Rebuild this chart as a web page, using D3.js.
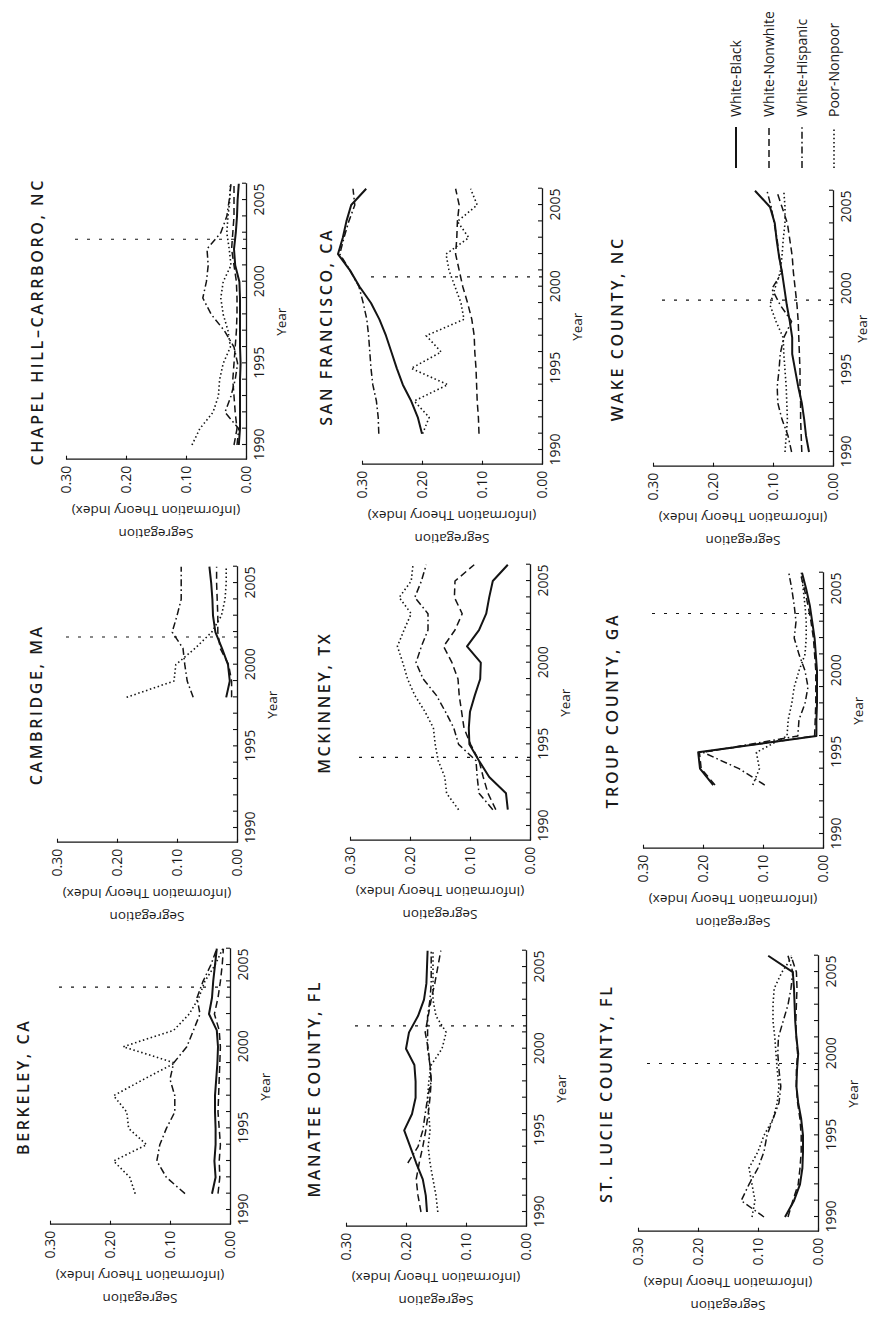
<!DOCTYPE html>
<html><head><meta charset="utf-8">
<script src="https://cdn.jsdelivr.net/npm/d3@7"></script>
<style>
body{margin:0;background:#fff}
svg{display:block}
text{font-family:'Open Sans',sans-serif;fill:#1a1a1a}
</style></head>
<body>
<svg id="chart" width="875" height="1317"></svg>
<script>
// ---------------- DATA ----------------
const seriesKeys  = ["WB","WN","WH","PN"];
const seriesNames = ["White-Black","White-Nonwhite","White-Hispanic","Poor-Nonpoor"];
const yearTicks   = [1990,1995,2000,2005];
const valueTicks  = [0.00,0.10,0.20,0.30];

const cities = ["BERKELEY, CA","CAMBRIDGE, MA","CHAPEL HILL\u2013CARRBORO, NC",
                "MANATEE COUNTY, FL","MCKINNEY, TX","SAN FRANCISCO, CA",
                "ST. LUCIE COUNTY, FL","TROUP COUNTY, GA","WAKE COUNTY, NC"];
// year of the policy change (dotted vertical reference line)
const policyYears = [2003.65, 2001.7, 2002.6, 2001.4, 1994.2, 2000.6, 1999.4, 2003.5, 1999.3];

// each series: [first year, values...]
const berkeley = {
  WB:[1991,0.030,0.024,0.026,0.024,0.024,0.025,0.025,0.023,0.021,0.020,0.022,0.035,0.030,0.028,0.025,0.022],
  WN:[1991,0.020,0.017,0.018,0.016,0.018,0.020,0.019,0.018,0.017,0.016,0.018,0.026,0.020,0.016,0.013,0.011],
  WH:[1991,0.075,0.106,0.122,0.117,0.106,0.092,0.092,0.100,0.094,0.072,0.061,0.050,0.055,0.045,0.032,0.022],
  PN:[1991,0.158,0.167,0.194,0.139,0.169,0.172,0.194,0.144,0.092,0.178,0.094,0.068,0.052,0.042,0.025,0.012]
};
const cambridge = {
  WB:[1998,0.018,0.012,0.015,0.025,0.036,0.040,0.041,0.043,0.046],
  WN:[1998,0.009,0.009,0.014,0.028,0.032,0.032,0.033,0.034,0.034],
  WH:[1998,0.073,0.083,0.087,0.090,0.108,0.100,0.093,0.093,0.093],
  PN:[1998,0.184,0.105,0.102,0.070,0.042,0.026,0.020,0.018,0.018]
};
const chapelHill = {
  WB:[1990,0.012,0.010,0.010,0.010,0.010,0.009,0.010,0.010,0.010,0.010,0.011,0.018,0.020,0.017,0.015,0.014,0.012],
  WN:[1990,0.020,0.015,0.018,0.020,0.022,0.020,0.018,0.016,0.015,0.015,0.016,0.020,0.024,0.022,0.020,0.020,0.020],
  WH:[1990,0.015,0.012,0.035,0.025,0.018,0.014,0.020,0.036,0.058,0.072,0.066,0.063,0.065,0.042,0.032,0.028,0.025],
  PN:[1990,0.090,0.077,0.055,0.046,0.044,0.038,0.026,0.030,0.038,0.042,0.038,0.025,0.028,0.032,0.030,0.027,0.026]
};
const manatee = {
  WB:[1990,0.165,0.167,0.172,0.183,0.193,0.203,0.190,0.184,0.184,0.186,0.200,0.195,0.180,0.170,0.166,0.165,0.164],
  WN:[1990,0.175,0.180,0.183,0.178,0.172,0.167,0.163,0.160,0.158,0.160,0.163,0.168,0.163,0.158,0.152,0.147,0.142],
  WH:[1993,0.197,0.180,0.172,0.168,0.164,0.158,0.160,0.164,0.164,0.164,0.160,0.158,0.158,0.158],
  PN:[1990,0.147,0.150,0.155,0.160,0.163,0.160,0.162,0.164,0.162,0.158,0.140,0.133,0.150,0.155,0.155,0.155,0.155]
};
const mckinney = {
  WB:[1991,0.037,0.040,0.068,0.085,0.101,0.102,0.100,0.092,0.083,0.082,0.105,0.085,0.073,0.068,0.062,0.037],
  WN:[1991,0.057,0.070,0.078,0.085,0.099,0.110,0.114,0.118,0.120,0.130,0.144,0.125,0.113,0.126,0.125,0.093],
  WH:[1991,0.062,0.085,0.088,0.090,0.119,0.127,0.141,0.156,0.178,0.190,0.181,0.170,0.170,0.192,0.181,0.173],
  PN:[1991,0.119,0.139,0.142,0.153,0.158,0.161,0.175,0.192,0.204,0.212,0.221,0.210,0.198,0.218,0.198,0.195]
};
const sanFrancisco = {
  WB:[1991,0.200,0.207,0.218,0.232,0.242,0.251,0.260,0.271,0.285,0.304,0.320,0.340,0.332,0.326,0.318,0.293],
  WN:[1991,0.105,0.106,0.108,0.109,0.110,0.112,0.113,0.117,0.124,0.132,0.138,0.144,0.142,0.141,0.138,0.144],
  WH:[1991,0.272,0.273,0.276,0.282,0.285,0.287,0.289,0.292,0.298,0.305,0.320,0.337,0.330,0.322,0.312,0.315],
  PN:[1991,0.199,0.188,0.213,0.157,0.218,0.168,0.193,0.130,0.135,0.145,0.155,0.160,0.122,0.141,0.108,0.119]
};
const stLucie = {
  WB:[1990,0.055,0.040,0.030,0.026,0.025,0.025,0.028,0.033,0.036,0.035,0.033,0.036,0.038,0.039,0.040,0.042,0.083],
  WN:[1990,0.050,0.042,0.033,0.030,0.028,0.028,0.030,0.034,0.036,0.036,0.034,0.036,0.037,0.036,0.035,0.036,0.045],
  WH:[1990,0.090,0.128,0.115,0.100,0.090,0.085,0.075,0.065,0.062,0.065,0.067,0.066,0.058,0.050,0.045,0.042,0.050],
  PN:[1990,0.110,0.105,0.110,0.115,0.100,0.090,0.075,0.068,0.065,0.068,0.070,0.072,0.075,0.075,0.073,0.060,0.042]
};
const troup = {
  WB:[1993,0.183,0.205,0.208,0.011,0.011,0.010,0.010,0.010,0.012,0.014,0.018,0.022,0.028,0.035],
  WN:[1993,0.180,0.203,0.206,0.014,0.013,0.012,0.012,0.012,0.014,0.016,0.020,0.025,0.031,0.038],
  WH:[1993,0.097,0.140,0.200,0.042,0.040,0.030,0.025,0.030,0.040,0.048,0.045,0.048,0.052,0.057],
  PN:[1993,0.117,0.106,0.111,0.060,0.058,0.052,0.048,0.040,0.030,0.028,0.028,0.030,0.033,0.036]
};
const wake = {
  WB:[1990,0.040,0.045,0.048,0.052,0.058,0.063,0.068,0.068,0.072,0.077,0.081,0.085,0.090,0.094,0.097,0.105,0.130],
  WN:[1990,0.052,0.053,0.054,0.054,0.055,0.055,0.056,0.057,0.058,0.060,0.063,0.066,0.068,0.072,0.076,0.085,0.094],
  WH:[1990,0.069,0.075,0.085,0.092,0.093,0.090,0.088,0.082,0.069,0.088,0.102,0.085,0.090,0.093,0.098,0.103,0.110],
  PN:[1990,0.080,0.078,0.076,0.077,0.078,0.080,0.082,0.083,0.095,0.105,0.097,0.088,0.085,0.083,0.080,0.080,0.082]
};
const cityData = [berkeley, cambridge, chapelHill, manatee, mckinney, sanFrancisco, stLucie, troup, wake];

// ---------------- LAYOUT (page is printed rotated 90°) ----------------
// per panel: screen x of the value-0 line, screen y of year 1990, screen x of title baseline
const panelX0    = [230, 237, 246, 526, 530, 542, 818, 823, 833];
const panelY1990 = [1210, 828, 445, 1212, 826, 450, 1217, 834, 452];
const panelTitleX= [29, 42, 43, 320, 330, 332, 612, 618, 623];

const PAGE_H = 1317, PPY = 16.33, VH = 180;
const yearDomain = [1989.1, 2006];

const dash = {WB:null, WN:"7,4", WH:"7,3,1.6,3", PN:"1.5,2.6"};
const width = {WB:2.0, WN:1.5, WH:1.5, PN:1.6};
const INK = "#141414";

const svg = d3.select("#chart");
const root = svg.append("g").attr("transform", `translate(0,${PAGE_H}) rotate(-90)`);

cities.forEach((name, i) => {
  const ox = PAGE_H - panelY1990[i], oy = panelX0[i];
  const g = root.append("g").attr("transform", `translate(${ox},${oy})`);
  const x = d3.scaleLinear().domain(yearDomain)
      .range([(yearDomain[0]-1990)*PPY, (yearDomain[1]-1990)*PPY]);
  const y = d3.scaleLinear().domain([0, 0.30]).range([0, -VH]);
  const xLeft = x.range()[0];
  const xMid = (x.range()[0] + x.range()[1]) / 2;

  // x axis (Year)
  const xa = g.append("g").call(
    d3.axisBottom(x).tickValues(d3.range(1990, 2007))
      .tickSize(-4).tickSizeOuter(0).tickPadding(8)
      .tickFormat(d => yearTicks.includes(d) ? d : ""));
  // y axis (Segregation)
  const ya = g.append("g").attr("transform", `translate(${xLeft},0)`).call(
    d3.axisLeft(y).tickValues(valueTicks).tickFormat(d3.format(".2f"))
      .tickSize(-4).tickSizeOuter(0).tickPadding(6));
  [xa, ya].forEach(a => {
    a.select(".domain").attr("stroke", INK).attr("stroke-width", 1.3);
    a.selectAll(".tick line").attr("stroke", INK).attr("stroke-width", 1.1);
    a.selectAll(".tick text").attr("font-size", 14).attr("fill", INK)
      .style("font-family", "'Open Sans',sans-serif");
  });

  // axis titles
  g.append("text").attr("text-anchor", "middle").attr("font-size", 13.5)
    .attr("transform", `translate(${xLeft-46},${y(0.15)}) rotate(-90)`)
    .text("(Information Theory Index)");
  g.append("text").attr("text-anchor", "middle").attr("font-size", 13.5)
    .attr("transform", `translate(${xLeft-69},${y(0.15)}) rotate(-90)`)
    .text("Segregation");
  g.append("text").attr("text-anchor", "middle").attr("font-size", 13.5)
    .attr("x", xMid).attr("y", Math.min(40, 867 - oy)).text("Year");

  // panel title
  g.append("text").attr("text-anchor", "middle").attr("font-size", 16)
    .attr("font-weight", 600).attr("letter-spacing", 2.6)
    .attr("x", xMid).attr("y", panelTitleX[i] - oy).text(name);

  // policy reference line
  g.append("line")
    .attr("x1", x(policyYears[i])).attr("x2", x(policyYears[i]))
    .attr("y1", y(0)).attr("y2", y(0.295))
    .attr("stroke", INK).attr("stroke-width", 1.1).attr("stroke-dasharray", "3,9");

  // series
  const line = d3.line().x(d => x(d[0])).y(d => y(d[1]));
  seriesKeys.forEach(k => {
    const arr = cityData[i][k];
    const pts = arr.slice(1).map((v, j) => [arr[0] + j, v]);
    g.append("path").datum(pts).attr("d", line)
      .attr("fill", "none").attr("stroke", INK)
      .attr("stroke-width", width[k])
      .attr("stroke-dasharray", dash[k])
      .attr("stroke-linejoin", "round");
  });
});

// legend (bottom-right of the unrotated page)
const legendRows = [736, 769, 802, 834];
const lg = root.append("g");
seriesKeys.forEach((k, i) => {
  lg.append("line").attr("x1", 1149).attr("x2", 1190)
    .attr("y1", legendRows[i]).attr("y2", legendRows[i])
    .attr("stroke", INK).attr("stroke-width", width[k])
    .attr("stroke-dasharray", dash[k]);
  lg.append("text").attr("x", 1200).attr("y", legendRows[i]).attr("dy", "0.35em")
    .attr("font-size", 14).text(seriesNames[i]);
});
</script>
</body></html>
